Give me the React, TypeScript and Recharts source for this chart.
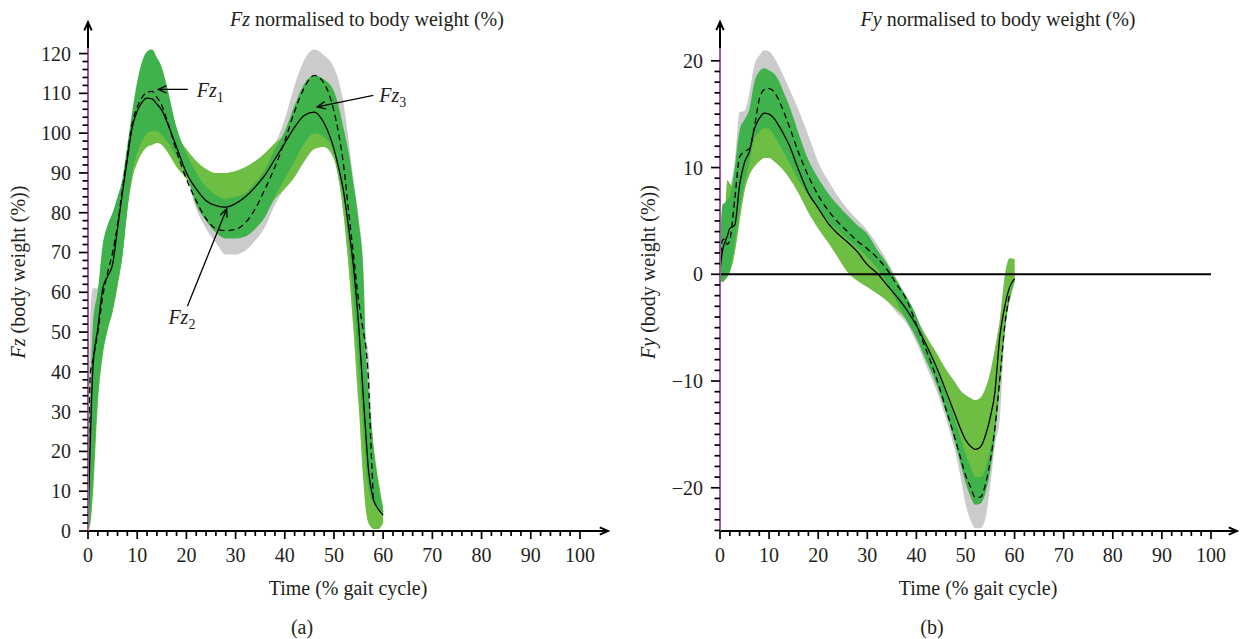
import { Area, ComposedChart, Line, ReferenceLine, XAxis, YAxis } from 'recharts'

const FONT = '"Liberation Serif", "Times New Roman", Times, "DejaVu Serif", "Noto Serif", FreeSerif, serif'
const INK = '#231f20'
const GRAY = '#cbcbcb'
const LIGHT_GREEN = '#6fbe44'
const DARK_GREEN = '#3fb24b'
const AXIS_PURPLE = '#a3559f'

// ---- Fz (vertical force) ----
const fzTime = [0, 0.5, 1, 2, 3, 4, 5, 6, 7, 8, 9, 10, 11, 12, 13, 14, 15, 16, 18, 20, 22, 24, 26, 28, 30, 32, 34, 36, 38, 40, 42, 44, 46, 48, 50, 51, 52, 53, 54, 55, 56, 56.5, 57, 57.5, 58, 59, 60]
const fzMean = [2, 24, 41, 51, 61, 64, 67, 76, 85, 93.5, 101.5, 105.5, 107.8, 108.8, 108.6, 107.3, 105.8, 103, 96.5, 90, 86, 83, 81.8, 81.4, 82.3, 84, 86.5, 89.5, 93.5, 97.5, 101.5, 104.5, 105.3, 102.5, 96, 91, 85, 76, 66, 52, 33, 24, 15.5, 11, 8, 5.5, 4]
const fzMeanDashed = [12, 40, 43, 50, 59, 65, 70, 77, 86, 94.5, 102.5, 106.5, 109, 110.3, 110.5, 109, 107, 103.5, 95.5, 88.5, 83, 78.5, 76, 75.5, 75.8, 77.5, 81, 86, 91.5, 98, 105.5, 111.5, 114.5, 112.5, 105.5, 99.5, 91.5, 80, 69, 58, 50, 46, 38, 22, 8, null, null]
const fzDarkLow = [0, 3, 12, 34, 45, 51, 55.5, 62, 69.5, 81, 90, 95, 98, 100, 100.5, 100.5, 99.5, 98, 94, 90, 82, 78, 75, 73.5, 73.5, 74, 76, 79, 84, 88.5, 93, 97.5, 100, 99, 95, 90, 83, 72, 58, 42, 25, 16, 11, 8, 7, 6, 4.5]
const fzDarkHigh = [8, 36, 52, 60.5, 72, 77, 80, 84, 88.5, 97, 105.5, 113, 118, 120.5, 121, 119, 116.5, 112, 101.5, 95, 90, 86.5, 84.5, 83.5, 84, 85, 87.5, 91, 96, 100.5, 107, 112.5, 114.5, 113.5, 110.5, 106.5, 101, 95, 87, 78, 64, 45, 35, 28, 21, 12, 5]
const fzLightLow = [0, 2, 9, 32, 44, 50.5, 55, 61.5, 69, 80.5, 88.5, 92.5, 95, 96.5, 97, 97.5, 97, 95.5, 91.5, 88.5, 85, 81.5, 79, 78, 78, 79, 80.5, 80.5, 83.5, 86, 89, 93, 96, 96.5, 93.5, 88, 79, 66, 50, 32, 12, 5, 2, 1, 0.5, 0.5, 2]
const fzLightHigh = [6, 30, 48, 58, 70, 76, 79, 83, 87, 95, 102, 106, 108, 109, 109, 108, 106, 104, 99.5, 96, 93, 91, 90, 90, 90.5, 91.5, 93, 95, 97.5, 99.5, 102, 104, 105, 104, 100, 97, 94, 88, 80, 70, 56, 42, 34, 28, 22, 13, 6]
const fzGrayLow = [0, 10, 20, 34, 45, 51, 55.5, 62, 69.5, 81, 90, 95, 98, 100, 100.5, 100.5, 99.5, 98, 94, 89, 81, 76, 72.5, 69.5, 69.5, 70.5, 73, 76.5, 82, 86, 89, 93, 96, 96.5, 93.5, 88, 79, 66, 50, 32, 28, 25, 25, 20, 8, 6, 4.5]
const fzGrayHigh = [20, 55, 61, 61, 70, 76, 79, 83, 87.5, 96, 104, 112, 117, 120, 120.5, 118.5, 116, 111, 101, 94.5, 90, 86.5, 84.5, 83.5, 84, 85, 87.5, 91, 97, 103.5, 112, 118.5, 121, 119.5, 116.5, 113, 107, 98, 88, 79, 66, 49, 45, 32, 21, 12, 5]

// ---- Fy (antero-posterior force) ----
const fyTime = [0, 0.5, 1, 1.5, 2, 3, 4, 5, 6, 7, 8, 9, 10, 11, 12, 13, 14, 16, 18, 20, 22, 24, 26, 28, 30, 32, 34, 36, 38, 40, 42, 44, 46, 48, 49, 50, 51, 52, 53, 54, 55, 56, 57, 58, 59, 60]
const fyMean = [0.3, 2.2, 3, 3.6, 4.3, 4.6, 8.4, 10.5, 11.5, 13.6, 14.6, 15.1, 15, 14.6, 13.9, 13.1, 12.2, 9.8, 7.6, 6.2, 4.8, 3.8, 3, 2.1, 0.9, 0.1, -1, -2.1, -3.3, -4.8, -6.6, -8.6, -10.9, -13.3, -14.5, -15.5, -16.1, -16.4, -16.2, -15.2, -13.5, -11, -5.8, -3, -1.2, -0.4]
const fyMeanDashed = [1, 3.2, 3.3, 2.8, 3.2, 7, 11, 11.5, 11.8, 13.8, 16.4, 17.3, 17.4, 17.1, 16.3, 15.2, 14, 11.4, 9.2, 7.4, 6, 4.9, 4, 3.1, 2.4, 1.55, 0.45, -0.95, -2.4, -4.7, -7.1, -9.6, -12.6, -15.6, -17.2, -18.8, -19.9, -20.9, -20.9, -19.8, -17.6, -14.4, -9.8, -4.8, -1.8, null]
const fyDarkLow = [-0.5, -0.7, -0.5, -0.2, 0.3, 2.8, 6, 8.5, 10.5, 12.7, 13.3, 13.7, 13.6, 13, 12.2, 11.4, 10.6, 8.8, 7.4, 6.2, 5, 4.1, 3.3, 2.5, 1.6, 0.6, -0.8, -2.6, -4.3, -6, -8.1, -10.2, -12.9, -16, -17.8, -19.5, -20.8, -21.6, -21.5, -20.6, -18.5, -15.2, -10.5, -5.5, -2.2, -0.5]
const fyDarkHigh = [2, 6.5, 6.7, 7, 7.3, 10, 13.5, 14.5, 15.5, 18, 19, 19.3, 19.1, 18.8, 18.1, 17, 15.9, 13.2, 10.7, 9, 7.6, 6.5, 5.5, 4.6, 3.8, 2.3, 1.0, -0.7, -2.1, -3.9, -6.6, -8.8, -11.2, -13.8, -15.3, -16.8, -18, -19, -19, -18.3, -16.5, -13.5, -9, -4.5, -1.8, -0.4]
const fyLightLow = [-0.5, -0.7, -0.5, -0.2, 0.2, 2, 5, 7.8, 9.3, 10.1, 10.6, 10.9, 10.9, 10.6, 10.2, 9.7, 9.1, 7.6, 5.8, 4.3, 3, 1.6, 0.2, -0.6, -1.2, -1.8, -2.5, -3.3, -4.3, -5.8, -7.6, -9.7, -12.4, -15.5, -17.3, -19, -20.3, -21, -21, -20, -18, -14.7, -10, -5, -2.5, -0.8]
const fyLightHigh = [3, 5, 6, 8.8, 8.5, 8, 12, 13, 14, 15, 16, 16, 16, 15.5, 15, 14.5, 13.5, 11.5, 9, 7.5, 6.5, 5.5, 4.5, 3.6, 2.8, 1.8, 0.7, -0.5, -2.3, -4.2, -5.8, -7.3, -8.9, -10.2, -10.9, -11.3, -11.6, -11.8, -11.6, -10.8, -9.3, -7, -4.3, -0.2, 1.5, 1.4]
const fyGrayLow = [-0.5, -0.7, -0.5, -0.2, 0.2, 2, 5, 7.8, 9.3, 10.1, 10.6, 10.9, 10.9, 10.6, 10.2, 9.7, 9.1, 7.6, 5.8, 4.3, 3, 1.6, 0.2, -0.6, -1.2, -1.8, -2.5, -3.6, -4.6, -6.4, -8.6, -10.8, -13.5, -16.8, -19, -21.5, -23, -23.8, -23.8, -23, -20, -16, -13.5, -5.5, -2.5, -0.8]
const fyGrayHigh = [2, 6.5, 6.7, 7, 8, 10.5, 15.2, 15.3, 17, 19.6, 20.5, 21, 20.9, 20.3, 19.5, 18.5, 17.5, 15.4, 13, 10.5, 8.8, 7.3, 6.1, 5.1, 4.1, 2.8, 1.3, -0.5, -2.1, -3.9, -5.8, -7.3, -8.9, -10.2, -10.9, -11.3, -11.6, -11.8, -11.6, -10.8, -9.3, -7, -4.3, -0.2, 1.5, 1.4]

// ticks: minor every 2 % on time, every 2 / 1 on force
const timeTicks = Array.from({ length: 51 }, (_, i) => i * 2)
const fzTicks = Array.from({ length: 61 }, (_, i) => i * 2)
const fyTicks = Array.from({ length: 45 }, (_, i) => i - 24)

type Row = {
  t: number
  mean: number | null
  meanDashed: number | null
  gray: [number, number]
  light: [number, number]
  dark: [number, number]
}

function buildRows(
  time: number[],
  mean: (number | null)[],
  dashed: (number | null)[],
  grayLo: number[],
  grayHi: number[],
  lightLo: number[],
  lightHi: number[],
  darkLo: number[],
  darkHi: number[],
): Row[] {
  return time.map((t, i) => ({
    t,
    mean: mean[i],
    meanDashed: dashed[i],
    gray: [grayLo[i], grayHi[i]],
    light: [lightLo[i], lightHi[i]],
    dark: [darkLo[i], darkHi[i]],
  }))
}

const fzRows = buildRows(fzTime, fzMean, fzMeanDashed, fzGrayLow, fzGrayHigh, fzLightLow, fzLightHigh, fzDarkLow, fzDarkHigh)
const fyRows = buildRows(fyTime, fyMean, fyMeanDashed, fyGrayLow, fyGrayHigh, fyLightLow, fyLightHigh, fyDarkLow, fyDarkHigh)

function TimeTick({ x, y, payload }: any) {
  const major = payload.value % 10 === 0
  return (
    <g>
      <line x1={x} x2={x} y1={y} y2={y + (major ? 8 : 5)} stroke="#000" strokeWidth={1.7} />
      {major && (
        <text x={x} y={y + 31} textAnchor="middle" fontSize={20} fontFamily={FONT} fill={INK}>
          {payload.value}
        </text>
      )}
    </g>
  )
}

function ForceTick({ x, y, payload }: any) {
  const v = payload.value
  const major = v % 10 === 0
  return (
    <g>
      <line x1={x - (major ? 9 : 5.5)} x2={x} y1={y} y2={y} stroke="#000" strokeWidth={1.7} />
      {major && (
        <text x={x - 17} y={y} dy="0.35em" textAnchor="end" fontSize={20} fontFamily={FONT} fill={INK}>
          {v < 0 ? `\u2212${-v}` : v}
        </text>
      )}
    </g>
  )
}

type ArrowLabel = { sub: string; dx: number; dy: number }

// line with an open arrow head at the end point, optional Fz_n label near the tail
function arrowShape(label?: ArrowLabel, width = 1.3) {
  return (props: any) => {
    const { x1, y1, x2, y2 } = props
    const ang = Math.atan2(y2 - y1, x2 - x1)
    const len = 9
    const spread = 0.42
    const ax = x2 - len * Math.cos(ang - spread)
    const ay = y2 - len * Math.sin(ang - spread)
    const bx = x2 - len * Math.cos(ang + spread)
    const by = y2 - len * Math.sin(ang + spread)
    return (
      <g>
        <line x1={x1} y1={y1} x2={x2} y2={y2} stroke="#000" strokeWidth={width} />
        <polyline points={`${ax},${ay} ${x2},${y2} ${bx},${by}`} fill="none" stroke="#000" strokeWidth={width} />
        {label && (
          <text x={x1 + label.dx} y={y1 + label.dy} fontSize={20} fontFamily={FONT} fill={INK}>
            <tspan fontStyle="italic">Fz</tspan>
            <tspan fontSize={14} dy={5}>
              {label.sub}
            </tspan>
          </text>
        )}
      </g>
    )
  }
}

interface PanelProps {
  rows: Row[]
  width: number
  yAxisWidth: number
  marginRight: number
  xMax: number
  yDomain: [number, number]
  yTicks: number[]
  yArrowTip: number
  zeroLine?: boolean
  annotations?: boolean
}

function ForcePanel({ rows, width, yAxisWidth, marginRight, xMax, yDomain, yTicks, yArrowTip, zeroLine, annotations }: PanelProps) {
  return (
    <ComposedChart
      width={width}
      height={639}
      data={rows}
      margin={{ top: 48, right: marginRight, bottom: 0, left: 0 }}
    >
      <Area type="monotone" dataKey="gray" stroke="none" fill={GRAY} fillOpacity={1} isAnimationActive={false} dot={false} activeDot={false} />
      <Area type="monotone" dataKey="light" stroke="none" fill={LIGHT_GREEN} fillOpacity={1} isAnimationActive={false} dot={false} activeDot={false} />
      <Area type="monotone" dataKey="dark" stroke="none" fill={DARK_GREEN} fillOpacity={1} isAnimationActive={false} dot={false} activeDot={false} />
      <Line type="monotone" dataKey="mean" stroke="#000" strokeWidth={1.3} dot={false} activeDot={false} isAnimationActive={false} />
      <Line type="monotone" dataKey="meanDashed" stroke="#000" strokeWidth={1.3} strokeDasharray="6 4" dot={false} activeDot={false} isAnimationActive={false} />
      {zeroLine && (
        <ReferenceLine segment={[{ x: 0, y: 0 }, { x: 100, y: 0 }]} stroke="#000" strokeWidth={2} />
      )}
      <XAxis
        dataKey="t"
        type="number"
        domain={[0, xMax]}
        ticks={timeTicks}
        interval={0}
        allowDataOverflow
        height={108}
        tickLine={false}
        tickSize={0}
        tickMargin={0}
        tick={(p: any) => <TimeTick {...p} />}
        axisLine={{ stroke: '#000', strokeWidth: 2 }}
      />
      <YAxis
        type="number"
        domain={yDomain}
        ticks={yTicks}
        interval={0}
        allowDataOverflow
        width={yAxisWidth}
        tickLine={false}
        tickSize={0}
        tickMargin={0}
        tick={(p: any) => <ForceTick {...p} />}
        axisLine={{ stroke: AXIS_PURPLE, strokeWidth: 2 }}
      />
      <ReferenceLine
        segment={[{ x: 0, y: yDomain[1] }, { x: 0, y: yArrowTip }]}
        ifOverflow="visible"
        shape={arrowShape(undefined, 2)}
      />
      <ReferenceLine
        segment={[{ x: xMax - 1, y: yDomain[0] }, { x: xMax, y: yDomain[0] }]}
        ifOverflow="visible"
        shape={arrowShape(undefined, 2)}
      />
      {annotations && (
        <ReferenceLine
          segment={[{ x: 20.3, y: 111 }, { x: 14.3, y: 111 }]}
          ifOverflow="visible"
          shape={arrowShape({ sub: '1', dx: 9, dy: 8 })}
        />
      )}
      {annotations && (
        <ReferenceLine
          segment={[{ x: 20.2, y: 56.5 }, { x: 28.2, y: 81 }]}
          ifOverflow="visible"
          shape={arrowShape({ sub: '2', dx: -19, dy: 18 })}
        />
      )}
      {annotations && (
        <ReferenceLine
          segment={[{ x: 58, y: 109.5 }, { x: 46.6, y: 106.6 }]}
          ifOverflow="visible"
          shape={arrowShape({ sub: '3', dx: 6, dy: 7 })}
        />
      )}
    </ComposedChart>
  )
}

const textStyle = { position: 'absolute' as const, fontFamily: FONT, fontSize: 20, color: INK, whiteSpace: 'nowrap' as const, textAlign: 'center' as const, lineHeight: '24px', height: 24 }

function CenteredText({ cx, cy, rotate, children }: { cx: number; cy: number; rotate?: boolean; children: any }) {
  return (
    <div style={{ ...textStyle, left: cx - 200, top: cy - 12, width: 400, transform: rotate ? 'rotate(-90deg)' : undefined }}>
      {children}
    </div>
  )
}

export default function App() {
  return (
    <div style={{ position: 'absolute', left: 0, top: 0, width: 1242, height: 639, background: '#fff' }}>
      <div style={{ position: 'absolute', left: 0, top: 0 }}>
        <ForcePanel
          rows={fzRows}
          width={620}
          yAxisWidth={88}
          marginRight={12}
          xMax={105.7}
          yDomain={[0, 121.4]}
          yTicks={fzTicks}
          yArrowTip={127.9}
          annotations
        />
      </div>
      <div style={{ position: 'absolute', left: 620, top: 0 }}>
        <ForcePanel
          rows={fyRows}
          width={622}
          yAxisWidth={100}
          marginRight={5}
          xMax={105.3}
          yDomain={[-24.05, 21.2]}
          yTicks={fyTicks}
          yArrowTip={23.64}
          zeroLine
        />
      </div>

      <CenteredText cx={367} cy={19}>
        <i>Fz</i> normalised to body weight (%)
      </CenteredText>
      <CenteredText cx={998} cy={19}>
        <i>Fy</i> normalised to body weight (%)
      </CenteredText>
      <CenteredText cx={18} cy={272} rotate>
        <i>Fz</i> (body weight (%))
      </CenteredText>
      <CenteredText cx={648} cy={272} rotate>
        <i>Fy</i> (body weight (%))
      </CenteredText>
      <CenteredText cx={348} cy={588}>
        Time (% gait cycle)
      </CenteredText>
      <CenteredText cx={978} cy={588}>
        Time (% gait cycle)
      </CenteredText>
      <CenteredText cx={302} cy={627}>
        (a)
      </CenteredText>
      <CenteredText cx={932} cy={627}>
        (b)
      </CenteredText>
    </div>
  )
}
